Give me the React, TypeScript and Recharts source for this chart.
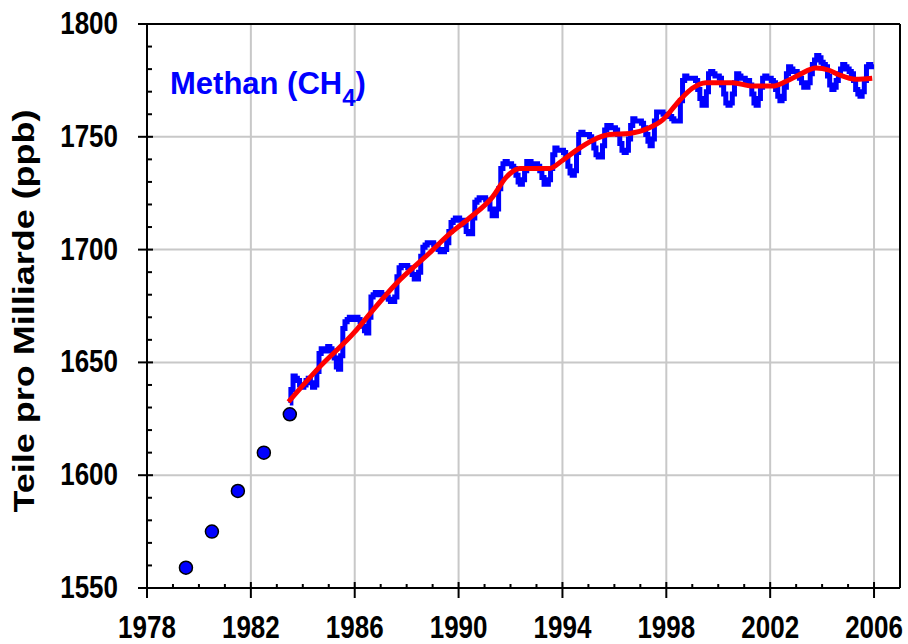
import { ComposedChart, Line, Scatter, XAxis, YAxis, CartesianGrid } from 'recharts';

const FONT = '"Liberation Sans", Arial, sans-serif';

// early flask measurements (annual means)
const flaskYears = [1979.5, 1980.5, 1981.5, 1982.5, 1983.5];
const flaskPpb = [1559, 1575, 1593, 1610, 1627];

// monthly means, starting July 1983
const monthlyStart = 1983.5;
const monthlyPpb = [
  1632, 1638, 1644, 1643, 1642, 1640, // 1983 Jul-Dec
  1639, 1640, 1642, 1643, 1641, 1639, 1640, 1646, 1654, 1656, 1656, 1655, // 1984
  1657, 1656, 1655, 1652, 1648, 1647, 1653, 1665, 1668, 1669, 1670, 1669, // 1985
  1669, 1670, 1669, 1668, 1666, 1664, 1663, 1670, 1679, 1680, 1681, 1680, // 1986
  1681, 1680, 1680, 1679, 1678, 1677, 1677, 1679, 1688, 1692, 1693, 1693, // 1987
  1693, 1692, 1691, 1689, 1687, 1687, 1690, 1697, 1701, 1702, 1703, 1703, // 1988
  1703, 1702, 1701, 1700, 1699, 1699, 1700, 1703, 1708, 1712, 1713, 1714, // 1989
  1714, 1713, 1713, 1711, 1708, 1707, 1707, 1714, 1721, 1722, 1723, 1723, // 1990
  1723, 1722, 1721, 1718, 1715, 1715, 1718, 1727, 1736, 1738, 1739, 1738, // 1991
  1738, 1737, 1736, 1733, 1730, 1729, 1731, 1735, 1739, 1739, 1738, 1738, // 1992
  1738, 1737, 1735, 1732, 1729, 1729, 1731, 1736, 1742, 1745, 1744, 1744, // 1993
  1744, 1743, 1741, 1737, 1734, 1733, 1735, 1743, 1751, 1752, 1751, 1751, // 1994
  1751, 1750, 1748, 1745, 1742, 1741, 1741, 1746, 1753, 1755, 1755, 1754, // 1995
  1754, 1753, 1751, 1747, 1744, 1743, 1744, 1749, 1755, 1758, 1757, 1757, // 1996
  1757, 1756, 1754, 1751, 1748, 1746, 1749, 1757, 1761, 1761, 1761, 1760, // 1997
  1760, 1760, 1759, 1758, 1757, 1757, 1757, 1766, 1775, 1777, 1776, 1776, // 1998
  1776, 1776, 1775, 1771, 1767, 1764, 1764, 1770, 1778, 1779, 1778, 1777, // 1999
  1777, 1776, 1773, 1769, 1765, 1764, 1765, 1769, 1774, 1778, 1777, 1776, // 2000
  1776, 1775, 1775, 1773, 1769, 1765, 1764, 1767, 1772, 1776, 1777, 1776, // 2001
  1776, 1775, 1774, 1771, 1768, 1766, 1767, 1772, 1778, 1781, 1780, 1779, // 2002
  1779, 1778, 1776, 1774, 1772, 1772, 1774, 1778, 1782, 1784, 1786, 1785, // 2003
  1783, 1782, 1781, 1777, 1773, 1771, 1772, 1775, 1778, 1780, 1782, 1781, // 2004
  1780, 1779, 1778, 1775, 1771, 1769, 1768, 1770, 1775, 1781, 1782, 1781, // 2005
  1781, // 2006 Jan
];

// deseasonalised trend
const trendYears = [
  1983.45, 1984.65, 1986.0, 1986.58, 1987.6, 1988.88, 1989.65, 1990.42, 1991.32,
  1991.83, 1992.35, 1992.99, 1993.5, 1994.0, 1994.53, 1995.17, 1995.81, 1996.58,
  1997.35, 1997.86, 1998.5, 1999.0, 1999.53, 2000.55, 2001.32, 2002.09, 2002.6,
  2003.12, 2003.76, 2004.27, 2004.65, 2005.3, 2005.93,
];
const trendPpb = [
  1632.5, 1648, 1663.5, 1671.5, 1685, 1698.5, 1707, 1714, 1723.5,
  1732, 1736, 1736, 1736, 1739.5, 1744, 1748.5, 1751, 1751.5,
  1754, 1757.5, 1766, 1771.5, 1774, 1774, 1772.5, 1772.5, 1774.5,
  1777.5, 1780.5, 1779.5, 1777.5, 1775.5, 1776,
];

const yearTicks = [
  1978, 1979, 1980, 1981, 1982, 1983, 1984, 1985, 1986, 1987, 1988, 1989, 1990, 1991, 1992,
  1993, 1994, 1995, 1996, 1997, 1998, 1999, 2000, 2001, 2002, 2003, 2004, 2005, 2006,
];
const yearLabels = [1978, 1982, 1986, 1990, 1994, 1998, 2002, 2006];
const ppbTicks = [
  1550, 1560, 1570, 1580, 1590, 1600, 1610, 1620, 1630, 1640, 1650, 1660, 1670,
  1680, 1690, 1700, 1710, 1720, 1730, 1740, 1750, 1760, 1770, 1780, 1790, 1800,
];
const ppbLabels = [1550, 1600, 1650, 1700, 1750, 1800];

const flaskData = flaskYears.map((year, i) => ({ year, ppb: flaskPpb[i] }));
const monthlyData = monthlyPpb.map((ppb, i) => ({ year: monthlyStart + i / 12, ppb }));
const trendData = trendYears.map((year, i) => ({ year, ppb: trendPpb[i] }));

const isYearMajor = (v: number) => yearLabels.includes(v);
const isPpbMajor = (v: number) => ppbLabels.includes(v);

function BottomTick({ x, y, payload }: any) {
  const v = payload.value;
  if (!isYearMajor(v)) {
    return <line x1={x} x2={x} y1={y} y2={y - 4} stroke="#000" strokeWidth={2} />;
  }
  return (
    <g>
      <line x1={x} x2={x} y1={y - 6} y2={y + 10} stroke="#000" strokeWidth={2} />
      <text
        transform={`translate(${x},${y + 50}) scale(1,1.2)`}
        textAnchor="middle"
        fontFamily={FONT}
        fontWeight="bold"
        fontSize={26}
        fill="#000"
      >
        {v}
      </text>
    </g>
  );
}

function TopTick({ x, y, payload }: any) {
  const len = isYearMajor(payload.value) ? 9 : 4;
  return <line x1={x} x2={x} y1={y} y2={y + len} stroke="#000" strokeWidth={2} />;
}

function LeftTick({ x, y, payload }: any) {
  const v = payload.value;
  if (!isPpbMajor(v)) {
    return <line x1={x} x2={x + 5} y1={y} y2={y} stroke="#000" strokeWidth={2} />;
  }
  return (
    <g>
      <line x1={x - 9} x2={x + 6} y1={y} y2={y} stroke="#000" strokeWidth={2} />
      <text
        transform={`translate(${x - 29},${y + 10}) scale(1,1.2)`}
        textAnchor="end"
        fontFamily={FONT}
        fontWeight="bold"
        fontSize={26}
        fill="#000"
      >
        {v}
      </text>
    </g>
  );
}

function RightTick({ x, y, payload }: any) {
  const len = isPpbMajor(payload.value) ? 8 : 4;
  return <line x1={x - len} x2={x} y1={y} y2={y} stroke="#000" strokeWidth={2} />;
}

function FlaskDot({ cx, cy }: any) {
  return <circle cx={cx} cy={cy} r={6.5} fill="#0000ff" stroke="#000" strokeWidth={1.5} />;
}

const axisLine = { stroke: '#000', strokeWidth: 2 };

export default function App() {
  return (
    <div style={{ position: 'absolute', left: 0, top: 0, width: 908, height: 644, background: '#fff' }}>
      <ComposedChart width={908} height={644} margin={{ top: 0, right: 0, bottom: 0, left: 0 }}>
        <CartesianGrid
          stroke="#c8c8c8"
          strokeWidth={2}
          verticalValues={[1982, 1986, 1990, 1994, 1998, 2002, 2006]}
          horizontalValues={[1600, 1650, 1700, 1750]}
        />
        <XAxis
          dataKey="year"
          type="number"
          domain={[1978, 2007]}
          ticks={yearTicks}
          interval={0}
          height={56}
          tickSize={0}
          tickMargin={0}
          tickLine={false}
          axisLine={axisLine}
          tick={<BottomTick />}
        />
        <XAxis
          xAxisId="top"
          orientation="top"
          dataKey="year"
          type="number"
          domain={[1978, 2007]}
          ticks={yearTicks}
          interval={0}
          height={24}
          tickSize={0}
          tickMargin={0}
          tickLine={false}
          axisLine={axisLine}
          tick={<TopTick />}
        />
        <YAxis
          type="number"
          domain={[1550, 1800]}
          ticks={ppbTicks}
          interval={0}
          width={147}
          tickSize={0}
          tickMargin={0}
          tickLine={false}
          axisLine={axisLine}
          tick={<LeftTick />}
        />
        <YAxis
          yAxisId="right"
          orientation="right"
          type="number"
          domain={[1550, 1800]}
          ticks={ppbTicks}
          interval={0}
          width={8}
          tickSize={0}
          tickMargin={0}
          tickLine={false}
          axisLine={axisLine}
          tick={<RightTick />}
        />
        <Line
          data={monthlyData}
          dataKey="ppb"
          type="step"
          stroke="#0000ff"
          strokeWidth={5}
          dot={false}
          isAnimationActive={false}
        />
        <Line
          data={trendData}
          dataKey="ppb"
          type="monotone"
          stroke="#ff0000"
          strokeWidth={5}
          dot={false}
          isAnimationActive={false}
        />
        <Scatter data={flaskData} dataKey="ppb" shape={<FlaskDot />} isAnimationActive={false} />
        <text x={170} y={94} fill="#0000ff" fontFamily={FONT} fontWeight="bold" fontSize={31}>
          Methan (CH
          <tspan fontSize={24} dy={12}>4</tspan>
          <tspan dy={-12}>)</tspan>
        </text>
        <text
          transform="translate(34,311) rotate(-90)"
          textAnchor="middle"
          fontFamily={FONT}
          fontWeight="bold"
          fontSize={30}
          textLength={403}
          lengthAdjust="spacingAndGlyphs"
          fill="#000"
        >
          Teile pro Milliarde (ppb)
        </text>
      </ComposedChart>
    </div>
  );
}
